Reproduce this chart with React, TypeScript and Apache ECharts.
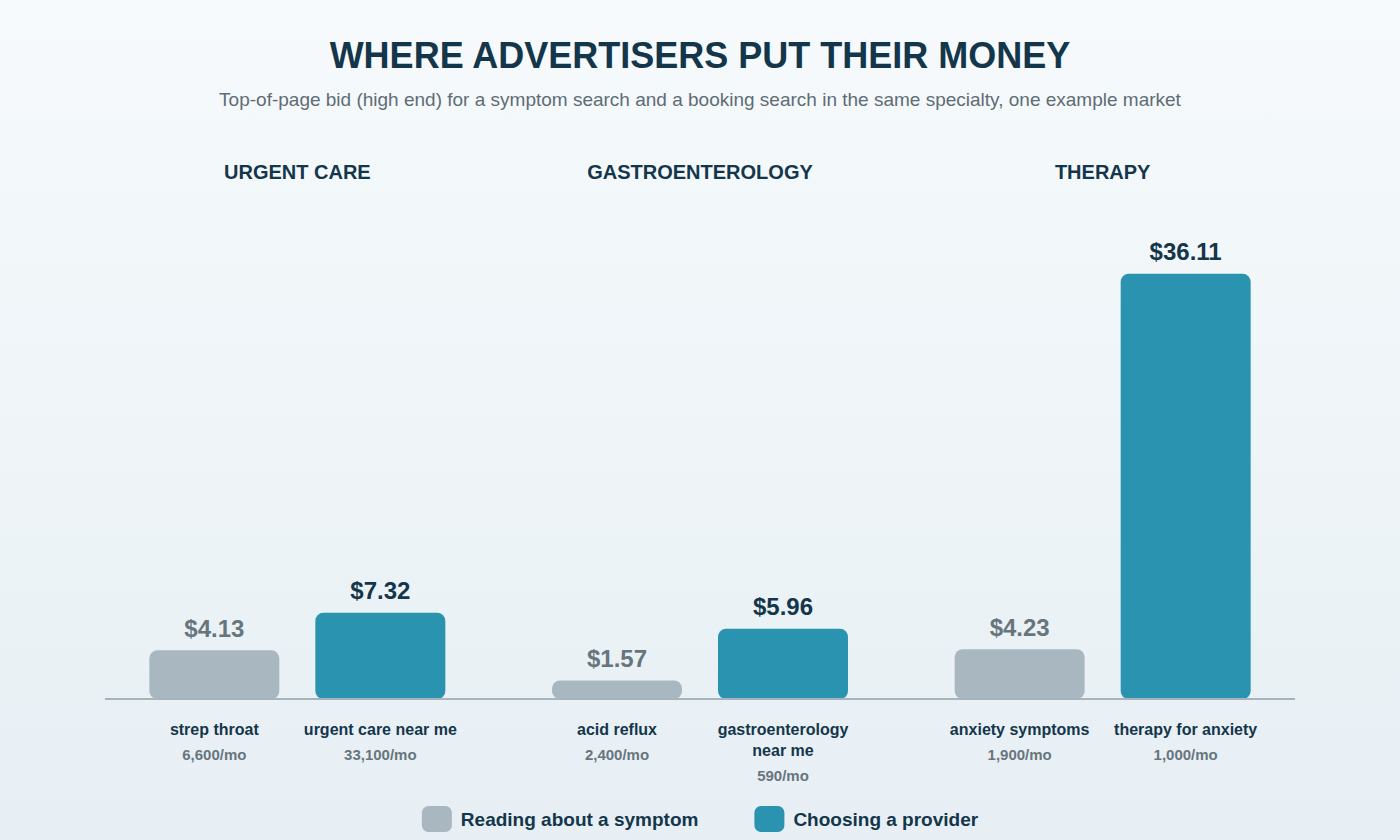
import React, { useEffect, useRef } from "react";
import * as echarts from "echarts";

const groups = ["URGENT CARE", "GASTROENTEROLOGY", "THERAPY"];
const symptomTerms = ["strep throat", "acid reflux", "anxiety symptoms"];
const providerTerms = ["urgent care near me", "gastroenterology\nnear me", "therapy for anxiety"];
const symptomBids = [4.13, 1.57, 4.23];
const providerBids = [7.32, 5.96, 36.11];
const symptomVolumes = ["6,600/mo", "2,400/mo", "1,900/mo"];
const providerVolumes = ["33,100/mo", "590/mo", "1,000/mo"];

const FONT = "Liberation Sans, Arial, Helvetica, sans-serif";
const DARK = "#14364b";
const MUTED = "#67757d";
const GREY_BAR = "#a9b8c0";
const TEAL_BAR = "#2a94b0";

const termLabel = (terms: string[], volumes: string[]) => ({
  show: true,
  position: "bottom",
  distance: 20,
  formatter: (p: any) => {
    const lines = terms[p.dataIndex].split("\n").map((t) => `{n|${t}}`);
    return `${lines.join("\n")}\n{s|${volumes[p.dataIndex]}}`;
  },
  rich: {
    n: { fontFamily: FONT, fontWeight: "bold", fontSize: 16, color: DARK, lineHeight: 21, align: "center" },
    s: { fontFamily: FONT, fontWeight: "bold", fontSize: 15, color: MUTED, lineHeight: 28, align: "center" },
  },
});

const valueLabel = (color: string) => ({
  show: true,
  position: "top",
  distance: 10,
  formatter: (p: any) => `$${Number(p.value).toFixed(2)}`,
  fontFamily: FONT,
  fontSize: 24,
  fontWeight: "bold",
  color,
});

const App: React.FC = () => {
  const chartRef = useRef<HTMLDivElement>(null);

  useEffect(() => {
    document.body.style.margin = "0";
    if (!chartRef.current) return;
    const chart = echarts.init(chartRef.current, null, { renderer: "svg" });

    const option: echarts.EChartsOption = {
      animation: false,
      backgroundColor: new echarts.graphic.LinearGradient(0, 0, 0, 1, [
        { offset: 0, color: "#f6fafc" },
        { offset: 1, color: "#e7eff4" },
      ]),
      textStyle: { fontFamily: FONT },
      title: [
        {
          text: "WHERE ADVERTISERS PUT THEIR MONEY",
          left: "center",
          top: 37,
          padding: 0,
          textStyle: { fontFamily: FONT, fontSize: 36, fontWeight: "bold", color: DARK },
        },
        {
          text: "Top-of-page bid (high end) for a symptom search and a booking search in the same specialty, one example market",
          left: "center",
          top: 90,
          padding: 0,
          textStyle: { fontFamily: FONT, fontSize: 19, fontWeight: "normal", color: "#5f6c75" },
        },
      ],
      legend: {
        data: ["Reading about a symptom", "Choosing a provider"],
        top: 806,
        padding: 0,
        left: "center",
        icon: "roundRect",
        itemWidth: 30,
        itemHeight: 26,
        itemGap: 56,
        selectedMode: false,
        textStyle: { fontFamily: FONT, fontSize: 19, fontWeight: "bold", color: DARK, padding: [0, 0, 0, 4] },
      },
      grid: { left: 96, right: 96, top: 228, bottom: 141 },
      xAxis: [
        {
          type: "category",
          data: groups,
          axisLine: { show: false },
          axisTick: { show: false },
          axisLabel: { show: false },
        },
        {
          type: "category",
          data: groups,
          position: "top",
          axisLine: { show: false },
          axisTick: { show: false },
          axisLabel: {
            margin: 46,
            fontFamily: FONT,
            fontSize: 20,
            fontWeight: "bold",
            color: DARK,
          },
        },
      ],
      yAxis: {
        type: "value",
        min: 0,
        max: 40,
        show: false,
        splitLine: { show: false },
      },
      graphic: [
        {
          type: "line",
          shape: { x1: 105, y1: 699, x2: 1295, y2: 699 },
          style: { stroke: "#a5b5bd", lineWidth: 2 },
          z: 10,
        },
      ],
      series: [
        {
          name: "sym-terms",
          type: "bar",
          stack: "sym",
          data: symptomBids.map(() => 0),
          barWidth: 130,
          barGap: "27.7%",
          silent: true,
          itemStyle: { color: "transparent" },
          label: termLabel(symptomTerms, symptomVolumes) as any,
        },
        {
          name: "Reading about a symptom",
          type: "bar",
          stack: "sym",
          data: symptomBids,
          barWidth: 130,
          barGap: "27.7%",
          itemStyle: { color: GREY_BAR, borderRadius: 8 },
          label: valueLabel(MUTED) as any,
        },
        {
          name: "prov-terms",
          type: "bar",
          stack: "prov",
          data: providerBids.map(() => 0),
          barWidth: 130,
          barGap: "27.7%",
          silent: true,
          itemStyle: { color: "transparent" },
          label: termLabel(providerTerms, providerVolumes) as any,
        },
        {
          name: "Choosing a provider",
          type: "bar",
          stack: "prov",
          data: providerBids,
          barWidth: 130,
          barGap: "27.7%",
          itemStyle: { color: TEAL_BAR, borderRadius: 8 },
          label: valueLabel(DARK) as any,
        },
      ],
    };

    chart.setOption(option);
    return () => {
      chart.dispose();
    };
  }, []);

  return <div ref={chartRef} style={{ width: 1400, height: 840 }} />;
};

export default App;
